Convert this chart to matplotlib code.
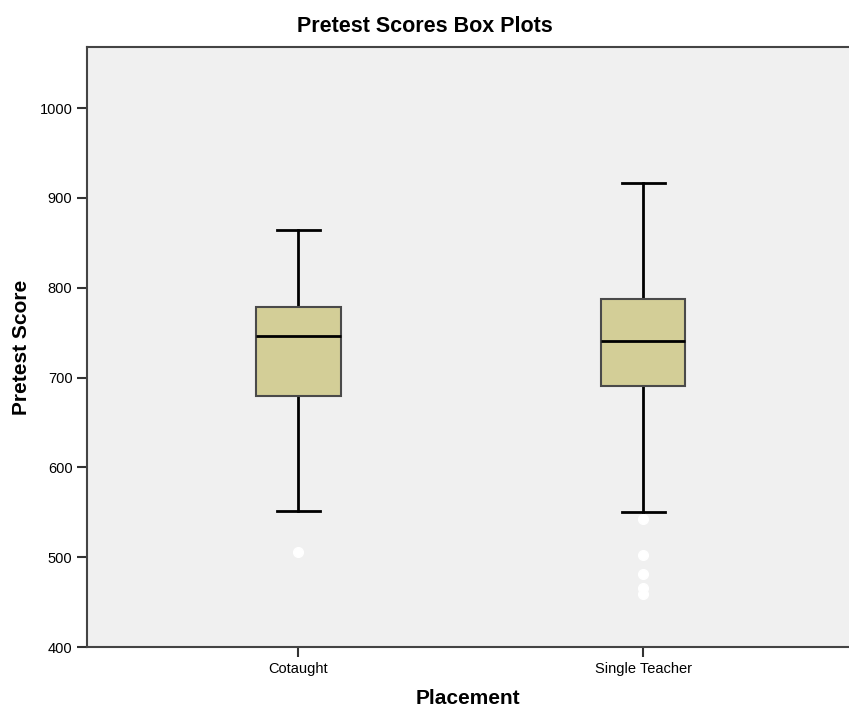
import numpy as np
import matplotlib.pyplot as plt

plt.rcParams["font.family"] = ["Liberation Sans", "DejaVu Sans"]

# five-number summaries per placement group
placements = ["Cotaught", "Single Teacher"]
whisker_low = [551, 550]
q1 = [679, 690]
median = [746, 741]
q3 = [778, 787]
whisker_high = [864, 917]
outliers = [[506], [542, 502, 481, 466, 459]]

stats = []
for i, name in enumerate(placements):
    stats.append({
        "label": name,
        "whislo": whisker_low[i],
        "q1": q1[i],
        "med": median[i],
        "q3": q3[i],
        "whishi": whisker_high[i],
        "fliers": outliers[i],
    })

fig = plt.figure(figsize=(8.49, 7.11), dpi=100)
ax = fig.add_axes([0.1025, 0.09, 0.8975, 0.844])
ax.set_facecolor("#f0f0f0")

ax.bxp(stats, positions=[1, 2], widths=0.246, patch_artist=True,
       boxprops=dict(facecolor="#d3ce97", edgecolor="#4a4a4a", linewidth=1.5, zorder=3),
       medianprops=dict(color="black", linewidth=2, zorder=4),
       whiskerprops=dict(color="black", linewidth=2, zorder=2),
       capprops=dict(color="black", linewidth=2, zorder=2),
       capwidths=0.125,
       flierprops=dict(marker="o", markerfacecolor="white",
                       markeredgecolor="white", markersize=7))

ax.set_xlim(1 - 0.612, 2 + 0.597)
ax.set_ylim(400, 1068)
ax.set_yticks([400, 500, 600, 700, 800, 900, 1000])
ax.tick_params(axis="both", direction="out", length=7, width=1.5,
               color="#333333", labelsize=10.5)

for side in ["left", "bottom", "top"]:
    ax.spines[side].set_color("#444444")
    ax.spines[side].set_linewidth(1.5)
ax.spines["right"].set_visible(False)

# title centred on the whole figure
fig.text(0.5, 0.963, "Pretest Scores Box Plots", ha="center", va="center",
         fontsize=15.5, fontweight="bold")
ax.set_xlabel("Placement", fontsize=15, fontweight="bold", labelpad=10)
ax.set_ylabel("Pretest Score", fontsize=15, fontweight="bold", labelpad=6)

fig.savefig("out.png", dpi=100)
